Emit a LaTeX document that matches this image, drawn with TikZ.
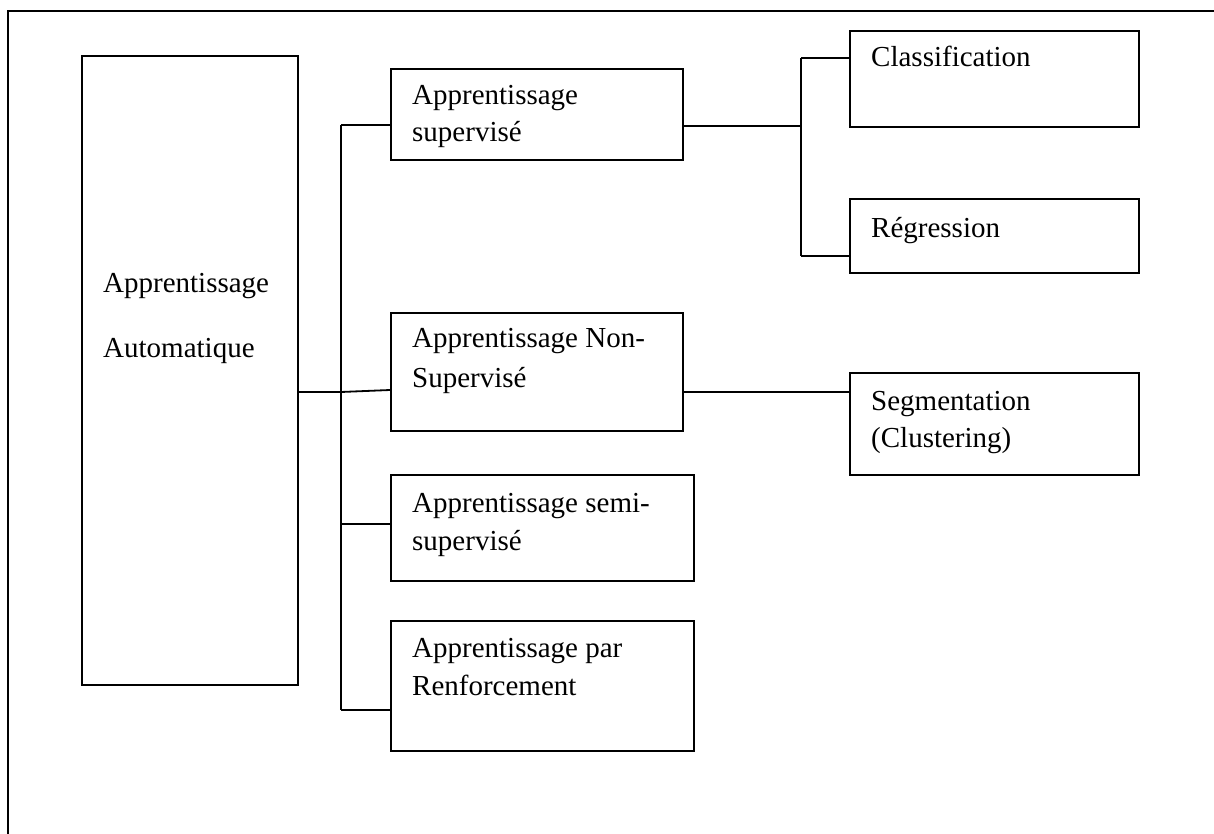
\documentclass[tikz,border=0pt]{standalone}
\usepackage{fontspec}
\setmainfont{Liberation Serif}
\begin{document}
\begin{tikzpicture}[x=1pt,y=-1pt,
  box/.style={draw,line width=1.8pt,inner sep=0pt,anchor=north west},
  lbl/.style={inner sep=0pt,anchor=base west,font=\fontsize{29}{34}\selectfont},
  wire/.style={line width=1.8pt}]
\useasboundingbox (0,0) rectangle (1214,834);
\draw[line width=2pt] (1214,11) -- (8,11) -- (8,834);
% boxes
\node[box,minimum width=216pt,minimum height=629pt] (main) at (81,55) {};
\node[box,minimum width=292pt,minimum height=91pt] (sup) at (390,68) {};
\node[box,minimum width=292pt,minimum height=118pt] (nonsup) at (390,312) {};
\node[box,minimum width=303pt,minimum height=106pt] (semi) at (390,474) {};
\node[box,minimum width=303pt,minimum height=130pt] (renf) at (390,620) {};
\node[box,minimum width=289pt,minimum height=96pt] (classif) at (849,30) {};
\node[box,minimum width=289pt,minimum height=74pt] (regr) at (849,198) {};
\node[box,minimum width=289pt,minimum height=102pt] (segm) at (849,372) {};
% texts
\node[lbl] (t1) at (103,292) {Apprentissage};
\node[lbl] (t2) at (103,357) {Automatique};
\node[lbl] (t3) at (412,105) {Apprentissage};
\node[lbl] (t4) at (412,142) {supervisé};
\node[lbl] (t5) at (412,347) {Apprentissage Non-};
\node[lbl] (t6) at (412,387) {Supervisé};
\node[lbl] (t7) at (412,512) {Apprentissage semi-};
\node[lbl] (t8) at (412,550) {supervisé};
\node[lbl] (t9) at (412,657) {Apprentissage par};
\node[lbl] (t10) at (412,695) {Renforcement};
\node[lbl] (t11) at (871,67) {Classification};
\node[lbl] (t12) at (871,237) {Régression};
\node[lbl] (t13) at (871,410) {Segmentation};
\node[lbl] (t14) at (871,447) {(Clustering)};
% connectors
\coordinate (trTop) at (341,125);
\coordinate (trMid) at (341,392);
\coordinate (trSemi) at (341,524);
\coordinate (trBot) at (341,710);
\coordinate (brTop) at (801,58);
\coordinate (brMid) at (801,126);
\coordinate (brBot) at (801,256);
\draw[wire] (main.east |- trMid) -- (trMid) -- (nonsup.west |- 0,390);
\draw[wire] (trTop) -- (trBot);
\draw[wire] (trTop) -- (sup.west |- trTop);
\draw[wire] (trSemi) -- (semi.west |- trSemi);
\draw[wire] (trBot) -- (renf.west |- trBot);
\draw[wire] (sup.east |- brMid) -- (brMid);
\draw[wire] (brTop) -- (brBot);
\draw[wire] (brTop) -- (classif.west |- brTop);
\draw[wire] (brBot) -- (regr.west |- brBot);
\draw[wire] (nonsup.east |- 0,392) -- (segm.west |- 0,392);
\end{tikzpicture}
\end{document}
